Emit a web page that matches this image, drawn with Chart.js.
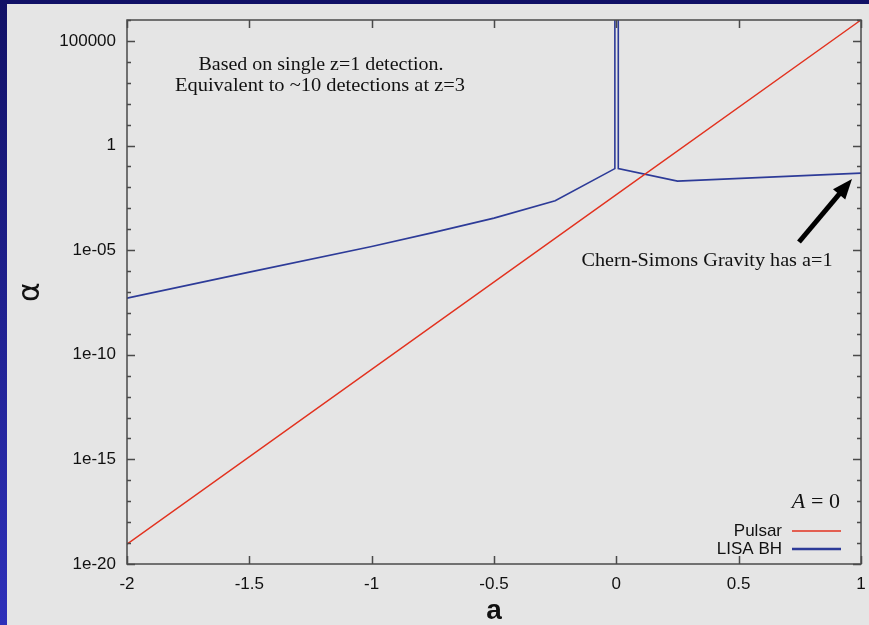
<!DOCTYPE html>
<html>
<head>
<meta charset="utf-8">
<script src="https://cdn.jsdelivr.net/npm/chart.js@4"></script>
<style>
  html, body { margin: 0; padding: 0; background: #1c1d8a; }
  #wrap { position: absolute; left: 0; top: 0; width: 869px; height: 625px; }
</style>
</head>
<body>
<div id="wrap"><canvas id="myChart" width="869" height="625"></canvas></div>
<script>
// values (alpha on a log axis)
const pulsarA = [-2, -1, 0, 1];
const pulsarAlpha = [8.9e-20, 2.0e-11, 4.5e-3, 1e6];

const lisaA = [-2, -1.5, -1, -0.75, -0.5, -0.25, -0.006, -0.006, 0.008, 0.008, 0.25, 1];
const lisaAlpha = [5.1e-8, 8.9e-7, 1.5e-5, 6.9e-5, 3.4e-4, 2.3e-3, 0.079, 1e9, 1e9, 0.079, 0.020, 0.048];

const seriesNames = ['Pulsar', 'LISA BH'];
const seriesColors = ['#e2321f', '#2d3b98'];

const xTickValues = [-2, -1.5, -1, -0.5, 0, 0.5, 1];
const yTickExps = [-20, -19, -18, -17, -16, -15, -14, -13, -12, -11, -10, -9, -8, -7, -6, -5, -4, -3, -2, -1, 0, 1, 2, 3, 4, 5, 6];
const yLabelExps = [-20, -15, -10, -5, 0, 5];
const yTickLabels = ['1e-20', '1e-15', '1e-10', '1e-05', '1', '100000'];

function pairs(xs, ys) {
  return xs.map((x, i) => ({ x: x, y: ys[i] }));
}

// draw text centred at (cx, cy), stretched to a given width
function fitText(ctx, text, cx, cy, width) {
  const w = ctx.measureText(text).width;
  ctx.save();
  ctx.translate(cx, cy);
  ctx.scale(width / w, 1);
  ctx.fillText(text, 0, 0);
  ctx.restore();
}

// background, frame, inward ticks, notes and legend
const decor = {
  id: 'decor',
  beforeDraw(chart) {
    const ctx = chart.ctx;
    const g = ctx.createLinearGradient(0, 0, 0, chart.height);
    g.addColorStop(0, '#111166');
    g.addColorStop(1, '#2e30ba');
    ctx.save();
    ctx.fillStyle = g;
    ctx.fillRect(0, 0, chart.width, chart.height);
    ctx.fillStyle = '#e5e5e5';
    ctx.fillRect(7, 4, chart.width - 7, chart.height - 4);
    ctx.restore();
  },
  afterDraw(chart) {
    const ctx = chart.ctx;
    const ca = chart.chartArea;
    const xs = chart.scales.x, ys = chart.scales.y;
    ctx.save();
    ctx.strokeStyle = '#4a4a4a';
    ctx.lineWidth = 1.5;
    ctx.strokeRect(ca.left, ca.top, ca.right - ca.left, ca.bottom - ca.top);

    ctx.beginPath();
    yTickExps.forEach(e => {
      const y = Math.round(ys.getPixelForValue(Math.pow(10, e))) + 0.5;
      const len = yLabelExps.includes(e) ? 8 : 4;
      ctx.moveTo(ca.left, y); ctx.lineTo(ca.left + len, y);
      ctx.moveTo(ca.right, y); ctx.lineTo(ca.right - len, y);
    });
    xTickValues.forEach(v => {
      const x = Math.round(xs.getPixelForValue(v)) + 0.5;
      ctx.moveTo(x, ca.bottom); ctx.lineTo(x, ca.bottom - 8);
      ctx.moveTo(x, ca.top); ctx.lineTo(x, ca.top + 8);
    });
    ctx.stroke();

    // notes
    ctx.fillStyle = '#111';
    ctx.textAlign = 'center';
    ctx.textBaseline = 'middle';
    ctx.font = '18px "Liberation Serif"';
    fitText(ctx, 'Based on single z=1 detection.', 321, 65, 245);
    fitText(ctx, 'Equivalent to ~10 detections at z=3', 320, 86, 290);
    fitText(ctx, 'Chern-Simons Gravity has a=1', 707, 261, 251);

    // arrow
    const tx = 852, ty = 179, fx = 799, fy = 242;
    const ang = Math.atan2(ty - fy, tx - fx);
    ctx.strokeStyle = '#000';
    ctx.lineWidth = 5;
    ctx.beginPath();
    ctx.moveTo(fx, fy);
    ctx.lineTo(tx - 14 * Math.cos(ang), ty - 14 * Math.sin(ang));
    ctx.stroke();
    ctx.fillStyle = '#000';
    ctx.beginPath();
    ctx.moveTo(tx, ty);
    ctx.lineTo(tx - 20 * Math.cos(ang) + 8 * Math.sin(ang), ty - 20 * Math.sin(ang) - 8 * Math.cos(ang));
    ctx.lineTo(tx - 20 * Math.cos(ang) - 8 * Math.sin(ang), ty - 20 * Math.sin(ang) + 8 * Math.cos(ang));
    ctx.closePath();
    ctx.fill();

    // legend
    ctx.fillStyle = '#111';
    ctx.textAlign = 'right';
    ctx.font = '22px "Liberation Serif"';
    ctx.fillText('= 0', 840, 502);
    const w = ctx.measureText('= 0').width;
    ctx.font = 'italic 22px "Liberation Serif"';
    ctx.fillText('A', 840 - w - 6, 502);

    ctx.font = '17px "Liberation Sans"';
    chart.data.datasets.forEach((ds, i) => {
      const y = 531 + i * 18;
      ctx.fillStyle = '#111';
      ctx.fillText(ds.label, 782, y);
      ctx.strokeStyle = ds.borderColor;
      ctx.lineWidth = i === 0 ? 1.5 : 2.5;
      ctx.beginPath();
      ctx.moveTo(792, y);
      ctx.lineTo(841, y);
      ctx.stroke();
    });
    ctx.restore();
  }
};

const config = {
  type: 'line',
  data: {
    datasets: [{
      label: seriesNames[0],
      data: pairs(pulsarA, pulsarAlpha),
      borderColor: seriesColors[0],
      borderWidth: 1.4,
      pointRadius: 0,
      tension: 0
    }, {
      label: seriesNames[1],
      data: pairs(lisaA, lisaAlpha),
      borderColor: seriesColors[1],
      borderWidth: 1.6,
      pointRadius: 0,
      tension: 0
    }]
  },
  options: {
    responsive: false,
    animation: false,
    layout: { padding: { left: 0, top: 20, right: 8, bottom: 0 } },
    plugins: { legend: { display: false }, tooltip: { enabled: false } },
    scales: {
      x: {
        type: 'linear',
        min: -2,
        max: 1,
        afterBuildTicks: s => { s.ticks = xTickValues.map(v => ({ value: v })); },
        afterFit: s => { s.height = 61; s.paddingLeft = 0; s.paddingRight = 0; },
        grid: { display: false, drawTicks: false, tickLength: 0 },
        border: { display: false },
        ticks: {
          color: '#111',
          font: { family: 'Liberation Sans', size: 17 },
          padding: 10,
          maxRotation: 0,
          autoSkip: false,
          callback: v => String(v)
        },
        title: {
          display: true,
          text: 'a',
          color: '#111',
          font: { family: 'Liberation Sans', size: 28, weight: 'bold', lineHeight: 0.85 },
          padding: { top: 0, bottom: 2 }
        }
      },
      y: {
        type: 'logarithmic',
        min: 1e-20,
        max: 1e6,
        afterBuildTicks: s => { s.ticks = yTickExps.map(e => ({ value: Math.pow(10, e) })); },
        afterFit: s => { s.width = 127; s.paddingTop = 0; s.paddingBottom = 0; },
        grid: { display: false, drawTicks: false, tickLength: 0 },
        border: { display: false },
        ticks: {
          color: '#111',
          font: { family: 'Liberation Sans', size: 17 },
          padding: 11,
          autoSkip: false,
          callback: v => {
            const e = Math.round(Math.log10(v));
            const k = yLabelExps.indexOf(e);
            return k >= 0 ? yTickLabels[k] : '';
          }
        },
        title: {
          display: true,
          text: 'α',
          color: '#111',
          font: { family: 'DejaVu Sans', size: 30 },
          padding: { top: 13, bottom: 0 }
        }
      }
    }
  },
  plugins: [decor]
};

const myChart = new Chart(document.getElementById('myChart'), config);
</script>
</body>
</html>
